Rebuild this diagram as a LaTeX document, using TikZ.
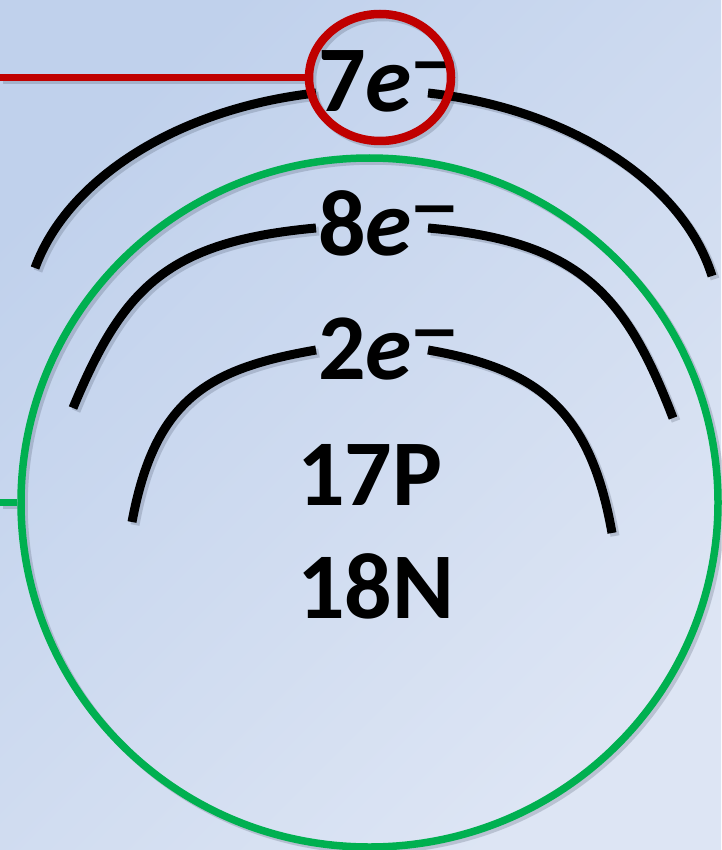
\documentclass[tikz,border=0pt]{standalone}
\usepackage{fontspec}
\usepackage{graphicx}
\setmainfont{Carlito}
\usetikzlibrary{shapes.geometric}
\definecolor{bgA}{RGB}{192,209,236}
\definecolor{bgB}{RGB}{221,229,244}
\definecolor{ringgreen}{RGB}{0,176,80}
\definecolor{ringred}{RGB}{192,0,0}
\definecolor{shadowgray}{RGB}{60,70,90}
\tikzset{
  shell/.style={line width=9pt, draw=black},
  shadowstyle/.style={draw=shadowgray, opacity=0.22},
  lbl/.style={font=\fontsize{94}{94}\selectfont\bfseries, inner sep=0pt, anchor=base west},
}
\newcommand{\eminus}{\textit{e}\hspace{-2pt}\raisebox{23pt}{\scalebox{1.4}[1.05]{\fontsize{70}{70}\selectfont −}}}
\newcommand{\shellarcs}[1]{%
  \draw[#1] (35,268) .. controls (68.3,177) and (180.2,108.2) .. (316,93);
  \draw[#1] (428,93) .. controls (568.2,108.7) and (682.5,181.3) .. (712,276);
  \draw[#1] (73,408) .. controls (122.9,288) and (166.7,241.6) .. (316,228);
  \draw[#1] (428,228) .. controls (579,241) and (625,293) .. (673,418);
  \draw[#1] (132,522) .. controls (154.9,399.1) and (207.7,368.7) .. (316,350);
  \draw[#1] (428,350) .. controls (536.3,368.7) and (590,408) .. (612,533);
}
\begin{document}
\begin{tikzpicture}[x=1pt,y=-1pt]
\useasboundingbox (0,0) rectangle (721,850);
\shade[top color=bgA, bottom color=bgB, shading angle=45] (0,0) rectangle (721,850);

% shadows
\begin{scope}[shift={(3,3)}]
  \shellarcs{shadowstyle, line width=9pt}
  \draw[shadowstyle, line width=7.5pt] (369.5,502.5) ellipse [x radius=348.5, y radius=344.5];
  \draw[shadowstyle, line width=8.5pt] (380,77.5) ellipse [x radius=71, y radius=63.5];
  \draw[shadowstyle, line width=6.5pt] (0,77.5) -- (306,77.5);
  \draw[shadowstyle, line width=7pt] (0,502.5) -- (18,502.5);
\end{scope}

% electron shells
\shellarcs{shell}

% inner ring
\node[draw=ringgreen, line width=7.5pt, ellipse, minimum width=697pt, minimum height=689pt, inner sep=0pt] (core) at (369.5,502.5) {};
\coordinate (gstart) at (0,502.5);
\draw[ringgreen, line width=7pt] (gstart) -- (core.west);

% labels
\node[lbl] (t7) at (318,112) {7\eminus};
\node[lbl] (t8) at (318,255) {8\eminus};
\node[lbl] (t2) at (318,379) {2\eminus};
\node[lbl] (np) at (297,505) {17P};
\node[lbl] (nn) at (297,618) {18N};

% valence highlight
\node[draw=ringred, line width=8.5pt, ellipse, minimum width=142pt, minimum height=127pt, inner sep=0pt] (val) at (380,77.5) {};
\coordinate (rstart) at (0,77.5);
\draw[ringred, line width=6.5pt] (rstart) -- (val.west);
\end{tikzpicture}
\end{document}
